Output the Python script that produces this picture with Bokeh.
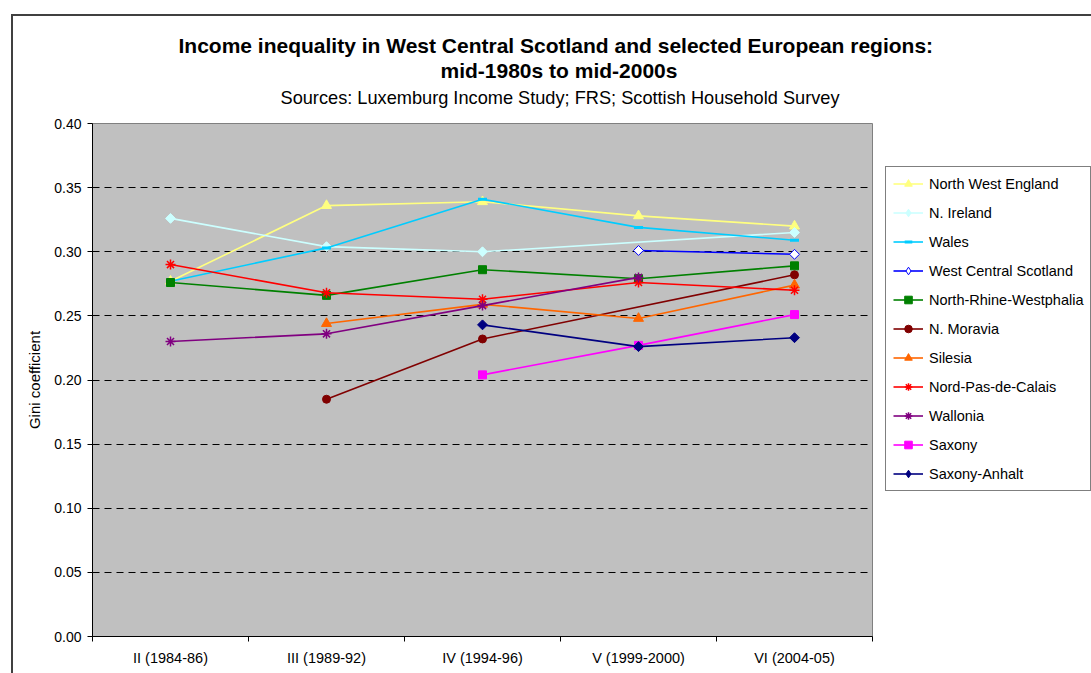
import math
from bokeh.plotting import figure
from bokeh.models import (Range1d, FixedTicker, NumeralTickFormatter, Legend, LegendItem,
                          Title, InlineStyleSheet)
from bokeh.embed import file_html
from bokeh.resources import INLINE

nan = float("nan")

periods = ["II (1984-86)", "III (1989-92)", "IV (1994-96)", "V (1999-2000)", "VI (2004-05)"]

north_west_england = [0.277, 0.336, 0.339, 0.328, 0.320]
n_ireland = [0.326, 0.304, 0.300, nan, 0.315]
wales = [0.277, 0.303, 0.341, 0.319, 0.309]
west_central_scotland = [nan, nan, nan, 0.301, 0.298]
north_rhine_westphalia = [0.276, 0.266, 0.286, 0.279, 0.289]
n_moravia = [nan, 0.185, 0.232, nan, 0.282]
silesia = [nan, 0.244, 0.259, 0.248, 0.274]
nord_pas_de_calais = [0.290, 0.268, 0.263, 0.276, 0.270]
wallonia = [0.230, 0.236, 0.258, 0.280, nan]
saxony = [nan, nan, 0.204, 0.227, 0.251]
saxony_anhalt = [nan, nan, 0.243, 0.226, 0.233]

y_ticks = [0.0, 0.05, 0.10, 0.15, 0.20, 0.25, 0.30, 0.35, 0.40]
grid_ticks = [0.05, 0.10, 0.15, 0.20, 0.25, 0.30, 0.35]

title_line1 = "Income inequality in West Central Scotland and selected European regions:"
title_line2 = "mid-1980s to mid-2000s"
subtitle_text = "Sources: Luxemburg Income Study; FRS; Scottish Household Survey"

FONT = "Liberation Sans"

border_css = InlineStyleSheet(css="""
:host { position: relative; overflow: hidden; }
:host::after { content: ''; position: absolute; left: 11px; top: 14px; width: 1200px; height: 900px;
  border: 2px solid #404040; pointer-events: none; z-index: 50; }
""")

p = figure(frame_width=780, frame_height=513, output_backend="svg", toolbar_location=None,
           x_range=Range1d(0, len(periods)), y_range=Range1d(0, 0.4),
           min_border_left=92, min_border_right=219, min_border_top=123, min_border_bottom=37,
           stylesheets=[border_css])
p.title.visible = False

p.background_fill_color = "#C0C0C0"
p.border_fill_color = "white"
p.outline_line_color = "#808080"
p.outline_line_width = 1

# y axis
yax = p.yaxis[0]
yax.ticker = FixedTicker(ticks=y_ticks)
yax.formatter = NumeralTickFormatter(format="0.00")
yax.axis_label = "Gini coefficient"
yax.axis_label_text_font = FONT
yax.axis_label_text_font_size = "15px"
yax.axis_label_text_font_style = "normal"
yax.axis_label_text_color = "black"
yax.axis_label_standoff = 8
yax.major_label_text_font = FONT
yax.major_label_text_font_size = "14px"
yax.major_label_text_color = "black"
yax.major_tick_out = 5
yax.major_tick_in = 0
yax.minor_tick_out = 0
yax.minor_tick_in = 0
yax.major_label_standoff = 6
yax.axis_line_color = "black"
yax.major_tick_line_color = "black"

# x axis
xax = p.xaxis[0]
centers = [i + 0.5 for i in range(len(periods))]
bounds = [float(i) for i in range(len(periods) + 1)]
xax.ticker = FixedTicker(ticks=centers, minor_ticks=bounds)
xax.major_label_overrides = {c: lab for c, lab in zip(centers, periods)}
xax.major_label_text_font = FONT
xax.major_label_text_font_size = "14.5px"
xax.major_label_text_color = "black"
xax.major_tick_out = 0
xax.major_tick_in = 0
xax.minor_tick_out = 5
xax.minor_tick_in = 0
xax.minor_tick_line_color = "black"
xax.major_label_standoff = 8
xax.axis_line_color = "black"

p.xgrid.visible = False
p.ygrid.ticker = FixedTicker(ticks=grid_ticks)
p.ygrid.grid_line_color = "black"
p.ygrid.grid_line_dash = "7 5"
p.ygrid.grid_line_width = 1

series = [
    ("North West England", north_west_england, "#FFFF80", "triangle", "#FFFF80", 10),
    ("N. Ireland", n_ireland, "#CCFFFF", "diamond", "#CCFFFF", 7),
    ("Wales", wales, "#00CCFF", "dash", "#00CCFF", 9),
    ("West Central Scotland", west_central_scotland, "#0000FF", "diamond", "white", 7),
    ("North-Rhine-Westphalia", north_rhine_westphalia, "#008000", "square", "#008000", 8),
    ("N. Moravia", n_moravia, "#800000", "circle", "#800000", 8),
    ("Silesia", silesia, "#FF6600", "triangle", "#FF6600", 10),
    ("Nord-Pas-de-Calais", nord_pas_de_calais, "#FF0000", "asterisk", "#FF0000", 10),
    ("Wallonia", wallonia, "#800080", "asterisk", "#800080", 10),
    ("Saxony", saxony, "#FF00FF", "square", "#FF00FF", 8),
    ("Saxony-Anhalt", saxony_anhalt, "#000080", "diamond", "#000080", 7),
]

items = []
for name, vals, color, marker, fill, size in series:
    idx = [i for i, v in enumerate(vals) if v == v]
    xs = [centers[i] for i in idx]
    ys = [vals[i] for i in idx]
    r_line = p.line(xs, ys, line_color=color, line_width=1.6)
    lw = 3 if marker == "dash" else (1.5 if marker == "asterisk" else 1)
    if marker == "diamond":
        # true (square) diamond on the plot: a square turned by 45 degrees
        p.scatter(xs, ys, marker="square", size=size, angle=math.pi / 4,
                  fill_color=fill, line_color=color, line_width=lw)
        # same points at zero size: only provides the diamond glyph of the legend
        r_leg = p.scatter(xs, ys, marker="diamond", size=0,
                          fill_color=fill, line_color=color, line_width=lw)
        items.append(LegendItem(label=name, renderers=[r_line, r_leg]))
    else:
        r_mark = p.scatter(xs, ys, marker=marker, size=size,
                           fill_color=fill, line_color=color, line_width=lw)
        items.append(LegendItem(label=name, renderers=[r_line, r_mark]))

legend = Legend(items=items, location=(13, 145))
legend.label_text_font = FONT
legend.label_text_font_size = "14.5px"
legend.label_text_color = "black"
legend.glyph_width = 30
legend.glyph_height = 19
legend.label_height = 19
legend.spacing = 10
legend.padding = 7
legend.margin = 0
legend.label_standoff = 6
legend.border_line_color = "black"
legend.border_line_width = 1
legend.background_fill_color = "white"
legend.background_fill_alpha = 1
p.add_layout(legend, "right")

def spacer(h):
    return Title(text=" ", standoff=h, text_font_size="1px", text_color="white")

sub = Title(text=subtitle_text, align="left", offset=188, standoff=0,
            text_font=FONT, text_font_size="18.2px", text_font_style="normal",
            text_color="black")
line2 = Title(text=title_line2, align="left", offset=348, standoff=0,
              text_font=FONT, text_font_size="21px", text_font_style="bold",
              text_color="black")
line1 = Title(text=title_line1, align="left", offset=86, standoff=0,
              text_font=FONT, text_font_size="21px", text_font_style="bold",
              text_color="black")
p.add_layout(spacer(13), "above")
p.add_layout(sub, "above")
p.add_layout(spacer(1), "above")
p.add_layout(line2, "above")
p.add_layout(line1, "above")

open("out.html", "w").write(file_html(p, INLINE))
